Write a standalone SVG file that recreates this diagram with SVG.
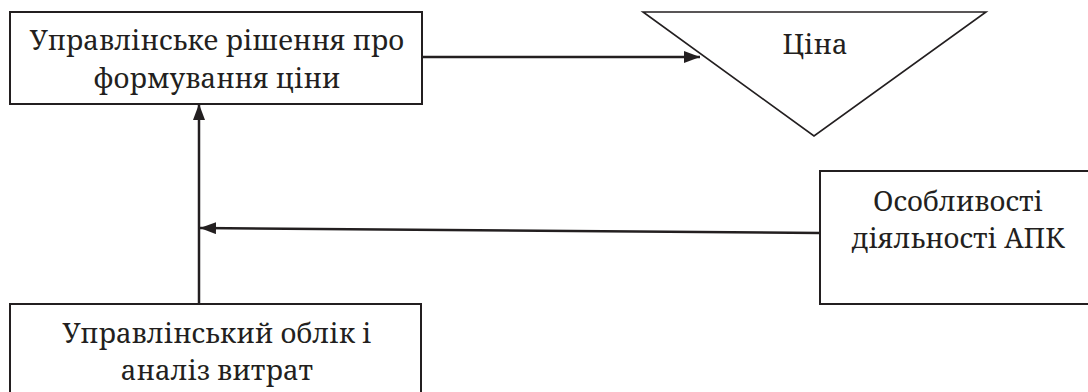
<svg xmlns="http://www.w3.org/2000/svg" width="1088" height="392" viewBox="0 0 1088 392">
<style>
.box{fill:#fff;stroke:#231f20;stroke-width:2}
.tri{fill:#fff;stroke:#231f20;stroke-width:1.6}
.t{font-family:"Noto Serif","Liberation Serif","DejaVu Serif",serif;font-size:27.5px;fill:#231f20;text-anchor:middle}
.c{stroke:#231f20;stroke-width:2.5;fill:none}
</style>
<defs>
<marker id="ah" viewBox="0 0 16 12" refX="16" refY="6" markerWidth="16" markerHeight="12" markerUnits="userSpaceOnUse" orient="auto">
<path d="M0,0 L16,6 L0,12 Z" fill="#231f20"/>
</marker>
</defs>
<rect width="1088" height="392" fill="#fff"/>
<g id="connectors">
<line class="c" x1="422" y1="57" x2="700" y2="57" marker-end="url(#ah)"/>
<line class="c" x1="199" y1="304" x2="199" y2="104" marker-end="url(#ah)"/>
<line class="c" x1="820" y1="233" x2="200" y2="228" marker-end="url(#ah)"/>
</g>
<g id="decision">
<rect class="box" x="10" y="12" width="412" height="92"/>
<text class="t" x="217" y="50">Управлінське рішення про</text>
<text class="t" x="217" y="88">формування ціни</text>
</g>
<g id="price">
<polygon class="tri" points="643,12 986,12 814,136"/>
<text class="t" x="815" y="54">Ціна</text>
</g>
<g id="features">
<rect class="box" x="820" y="171" width="280" height="133"/>
<text class="t" x="958" y="211">Особливості</text>
<text class="t" x="958" y="248">діяльності АПК</text>
</g>
<g id="accounting">
<rect class="box" x="10" y="304" width="411" height="100"/>
<text class="t" x="217" y="343">Управлінський облік і</text>
<text class="t" x="217" y="380">аналіз витрат</text>
</g>
</svg>
